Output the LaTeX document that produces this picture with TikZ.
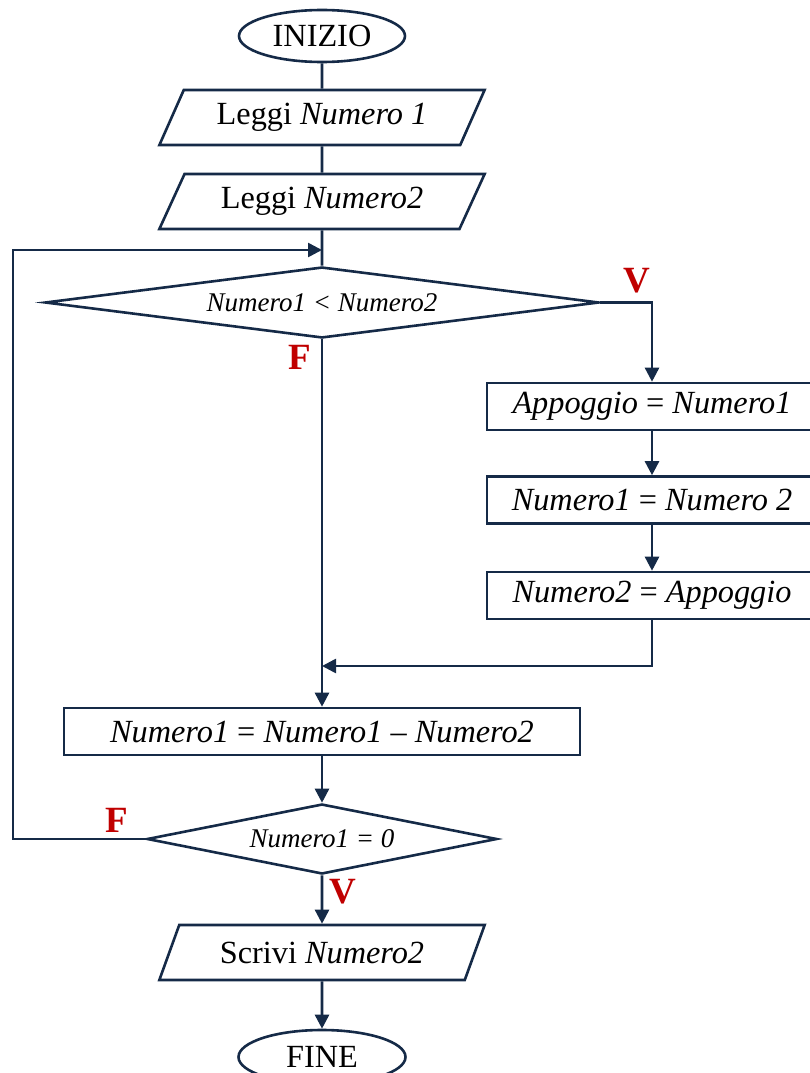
\documentclass[tikz,border=0pt]{standalone}
\usepackage{fontspec}
\setmainfont{Liberation Serif}
\usetikzlibrary{shapes.geometric,arrows.meta}
\definecolor{navy}{HTML}{152A47}
\definecolor{lblred}{HTML}{C00000}
\begin{document}
\begin{tikzpicture}[x=1pt,y=-1pt,
  line/.style={draw=navy,line width=2.6pt},
  arr/.style={line,-{Triangle[length=14pt,width=14pt]}},
  mainfont/.style={font=\fontsize{32.3}{36}\selectfont},
  smallfont/.style={font=\fontsize{27}{32}\selectfont\itshape},
  term/.style={ellipse,line,fill=white,inner sep=0pt,minimum width=166pt,minimum height=52pt,mainfont},
  io/.style={trapezium,trapezium left angle=56.8,trapezium right angle=123.2,trapezium stretches=true,line,fill=white,inner sep=0pt,minimum width=326pt,minimum height=55pt,mainfont},
  proc/.style={rectangle,line,fill=white,inner sep=0pt,minimum height=47pt,mainfont},
  decis/.style={diamond,line,fill=white,inner sep=0pt,smallfont},
  lbl/.style={text=lblred,font=\fontsize{37}{40}\selectfont\bfseries}
]
\useasboundingbox (0,0) rectangle (809,1073);

\node[term] (inizio) at (322,36) {INIZIO};
\node[io] (p1) at (322,117.5) {Leggi \textit{Numero 1}};
\node[io] (p2) at (322,201.5) {Leggi \textit{Numero2}};
\node[decis,aspect=7.8,minimum width=554pt,minimum height=71pt] (d1) at (322,302.5) {Numero1 < Numero2};
\node[proc,minimum width=330pt] (boxa) at (652,406.5) {\textit{Appoggio} = \textit{Numero1}};
\node[proc,minimum width=330pt] (boxb) at (652,500) {\textit{Numero1} = \textit{Numero 2}};
\node[proc,minimum width=330pt] (boxc) at (652,595.5) {\textit{Numero2} = \textit{Appoggio}};
\node[proc,minimum width=516pt] (boxd) at (322,731.5) {\textit{Numero1} = \textit{Numero1} – \textit{Numero2}};
\node[decis,aspect=5,minimum width=350pt,minimum height=70pt] (d2) at (322,839) {Numero1 = 0};
\node[io] (p3) at (322,952.5) {Scrivi \textit{Numero2}};
\node[term,minimum width=167pt,minimum height=54pt] (fine) at (322,1057) {FINE};

\coordinate (merge) at (322,250);
\coordinate (join) at (322,666);
\coordinate (loopc) at (13,839);

\draw[line] (inizio) -- (p1);
\draw[line] (p1) -- (p2);
\draw[line] (p2) -- (d1);
\draw[arr] (d1.east) -| (boxa.north);
\draw[arr] (boxa) -- (boxb);
\draw[arr] (boxb) -- (boxc);
\draw[arr] (boxc.south) |- (join);
\draw[arr] (d1.south) -- (boxd.north);
\draw[arr] (boxd) -- (d2);
\draw[arr] (d2.west) -- (loopc) |- (merge);
\draw[arr] (d2) -- (p3);
\draw[arr] (p3) -- (fine);

\node[lbl] (v1) at (637,281) {V};
\node[lbl] (f1) at (300,357) {F};
\node[lbl] (f2) at (117,820) {F};
\node[lbl] (v2) at (343,892) {V};
\end{tikzpicture}
\end{document}
